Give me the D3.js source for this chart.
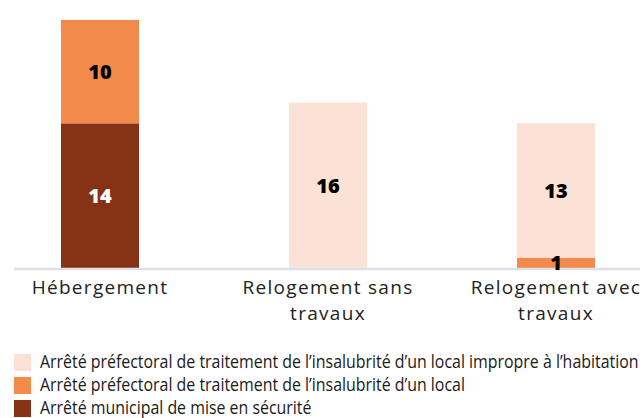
<!DOCTYPE html>
<html lang="fr">
<head>
    <meta charset="UTF-8">
    <title>Arrêtés par type de relogement</title>
    <script src="https://d3js.org/d3.v7.min.js"></script>
    <style>
        body { margin: 0; background: #fff; }
        .cat { font-family: "Open Sans", sans-serif; font-size: 19px; fill: #222; letter-spacing: 1.3px; }
        .val { font-family: "Open Sans", sans-serif; font-size: 20px; font-weight: 800; }
        .leg { font-family: "Open Sans", sans-serif; font-size: 17.5px; fill: #1a1a1a; }
    </style>
</head>
<body>
<div id="fig"></div>
<script>
    let categories = [["Hébergement"], ["Relogement sans", "travaux"], ["Relogement avec", "travaux"]]
    let seriesNames = [
        "Arrêté préfectoral de traitement de l’insalubrité d’un local impropre à l’habitation",
        "Arrêté préfectoral de traitement de l’insalubrité d’un local",
        "Arrêté municipal de mise en sécurité"
    ]
    let seriesColors = ["#fbe1d6", "#f28a4b", "#863214"]
    // values per category, bottom to top: municipal, local, impropre
    let municipal = [14, 0, 0]
    let local = [10, 0, 1]
    let impropre = [0, 16, 13]

    let w = 644, h = 418
    let svg = d3.select("#fig").append("svg").attr("width", w).attr("height", h)

    let x = d3.scaleBand().domain(d3.range(categories.length)).range([-14, 670])
        .paddingInner(0.658).paddingOuter(0.329)
    let y = d3.scaleLinear().domain([0, 24]).range([268, 20])

    let keys = ["municipal", "local", "impropre"]
    let colorOf = {municipal: seriesColors[2], local: seriesColors[1], impropre: seriesColors[0]}
    let table = categories.map((c, i) => ({i: i, municipal: municipal[i], local: local[i], impropre: impropre[i]}))
    let stacked = d3.stack().keys(keys)(table)

    stacked.forEach(function (layer) {
        svg.append("g").selectAll("rect")
            .data(layer.filter(d => d[1] > d[0]))
            .join("rect")
            .attr("x", d => x(d.data.i))
            .attr("width", x.bandwidth())
            .attr("y", d => y(d[1]))
            .attr("height", d => y(d[0]) - y(d[1]))
            .attr("fill", colorOf[layer.key])
    })

    // axis line
    svg.append("line").attr("x1", 14).attr("x2", 640).attr("y1", 269).attr("y2", 269)
        .attr("stroke", "#dde0e7").attr("stroke-width", 2.5)

    // value labels
    stacked.forEach(function (layer) {
        svg.append("g").selectAll("text")
            .data(layer.filter(d => d[1] > d[0]))
            .join("text")
            .attr("class", "val")
            .attr("x", d => x(d.data.i) + x.bandwidth() / 2)
            .attr("y", d => (y(d[0]) + y(d[1])) / 2)
            .attr("dy", "0.36em")
            .attr("text-anchor", "middle")
            .attr("fill", layer.key === "municipal" ? "#fff" : "#000")
            .text(d => d[1] - d[0])
    })

    // category labels
    let cat = svg.append("g").selectAll("text").data(categories).join("text")
        .attr("class", "cat")
        .attr("text-anchor", "middle")
        .attr("x", (d, i) => x(i) + x.bandwidth() / 2)
        .attr("y", 294)
    cat.selectAll("tspan").data(d => d).join("tspan")
        .attr("x", function () { return d3.select(this.parentNode).attr("x") })
        .attr("dy", (d, i) => i === 0 ? 0 : 26)
        .text(d => d)

    // legend
    let leg = svg.append("g")
    seriesNames.forEach(function (name, i) {
        leg.append("rect").attr("x", 14).attr("y", 354 + i * 23)
            .attr("width", 17).attr("height", 17).attr("fill", seriesColors[i])
        leg.append("text").attr("class", "leg")
            .attr("x", 40).attr("y", 368 + i * 23)
            .text(name)
    })
    let first = leg.select("text").node().getComputedTextLength()
    let k = 599 / first
    leg.selectAll("text").attr("transform", function () {
        return `translate(40,0) scale(${k},1) translate(-40,0)`
    })
</script>
</body>
</html>
